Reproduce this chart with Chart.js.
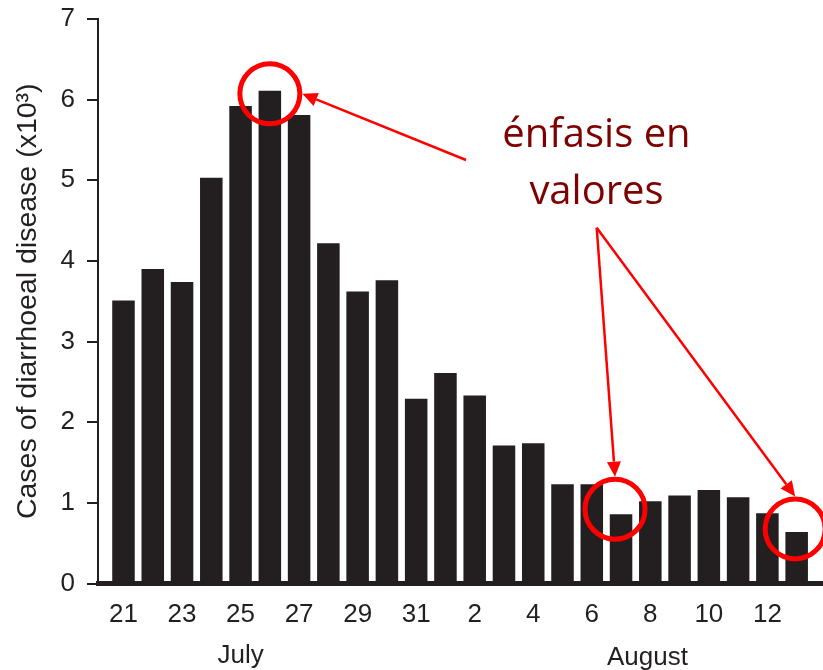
<!DOCTYPE html>
<html><head><meta charset="utf-8">
<script src="https://cdn.jsdelivr.net/npm/chart.js@4.4.0/dist/chart.umd.min.js"></script>
<style>html,body{margin:0;padding:0;background:#fff}#wrap{width:823px;height:670px}</style>
</head><body><div id="wrap"><canvas id="c" width="823" height="670"></canvas></div>
<script>
// ---- data ----
const days = ["21","22","23","24","25","26","27","28","29","30","31",
              "1","2","3","4","5","6","7","8","9","10","11","12","13"];
const cases = [3.51,3.90,3.74,5.03,5.92,6.11,5.81,4.22,3.62,3.76,2.29,
               2.61,2.33,1.71,1.74,1.23,1.23,0.86,1.02,1.09,1.16,1.07,0.87,0.64];
const tickDays = ["21","23","25","27","29","31","2","4","6","8","10","12"];
const yTicks = [0,1,2,3,4,5,6,7];
const months = ["July","August"];
const highlightedDays = ["26","7","13"];
const yTitle = "Cases of diarrhoeal disease (x10\u00B3)";
const note = ["\u00E9nfasis en","valores"];

const INK = '#231f20';
const FONT = '"Liberation Sans", Arial, Helvetica, sans-serif';

const annot = {
  id: 'annot',
  afterDatasetsDraw(chart, args, o) {
    const {ctx, scales:{x, y}} = chart;
    ctx.save();
    // month labels
    ctx.fillStyle = INK;
    ctx.font = '26px ' + FONT;
    ctx.textAlign = 'center';
    ctx.textBaseline = 'alphabetic';
    months.forEach((m, i) => ctx.fillText(m, x.getPixelForValue(o.monthPos[i]), o.monthY[i]));

    // circles around highlighted bars
    const centers = highlightedDays.map((d, i) => {
      const idx = days.indexOf(d, i === 0 ? 0 : 11);
      return {
        cx: x.getPixelForValue(idx) + o.circleOff[i][0],
        cy: y.getPixelForValue(cases[idx]) + o.circleOff[i][1]
      };
    });
    ctx.strokeStyle = '#ff0000';
    ctx.lineWidth = 5;
    centers.forEach(c => { ctx.beginPath(); ctx.arc(c.cx, c.cy, o.r, 0, Math.PI*2); ctx.stroke(); });

    // arrows
    const arrow = (x0, y0, x1, y1) => {
      const a = Math.atan2(y1 - y0, x1 - x0);
      const L = 15, W = 7;
      const bx = x1 - L*Math.cos(a), by = y1 - L*Math.sin(a);
      ctx.strokeStyle = '#ff0000'; ctx.fillStyle = '#ff0000'; ctx.lineWidth = 2.5;
      ctx.beginPath(); ctx.moveTo(x0, y0); ctx.lineTo(bx, by); ctx.stroke();
      ctx.beginPath();
      ctx.moveTo(x1, y1);
      ctx.lineTo(bx + W*Math.sin(a), by - W*Math.cos(a));
      ctx.lineTo(bx - W*Math.sin(a), by + W*Math.cos(a));
      ctx.closePath(); ctx.fill();
    };
    o.tails.forEach((t, i) => {
      const c = centers[i], ang = o.tipAngle[i];
      arrow(t[0], t[1], c.cx + (o.r + 2.5)*Math.cos(ang), c.cy + (o.r + 2.5)*Math.sin(ang));
    });

    // note text
    ctx.fillStyle = '#7f0000';
    ctx.font = '40px "Open Sans", "Noto Sans", sans-serif';
    ctx.textAlign = 'center';
    ctx.fillText(note[0], o.noteX, o.noteY[0]);
    ctx.fillText(note[1], o.noteX, o.noteY[1]);
    ctx.restore();
  }
};

new Chart(document.getElementById('c'), {
  type: 'bar',
  data: {
    datasets: [{
      data: cases.map((v, i) => ({x: i, y: v})),
      backgroundColor: INK,
      borderWidth: 0,
      categoryPercentage: 1,
      barPercentage: 0.77
    }]
  },
  options: {
    responsive: false,
    animation: false,
    devicePixelRatio: 1,
    layout: {padding: {top: 19, right: 0, bottom: 0, left: 0}},
    plugins: {
      legend: {display: false},
      tooltip: {enabled: false},
      annot: {
        monthPos: [4.0, 17.9],
        monthY: [663, 665],
        circleOff: [[0, 3], [-6, -5], [-1.5, -3]],
        r: 30,
        tails: [[466, 160], [596.7, 227.7], [596.7, 227.7]],
        tipAngle: [0, -Math.PI/2, -Math.PI/2],
        noteX: 596.5,
        noteY: [147, 204]
      }
    },
    scales: {
      x: {
        type: 'linear',
        min: -0.871, max: 23.9,
        offset: false,
        afterBuildTicks: s => { s.ticks = tickDays.map(d => ({value: days.indexOf(d)})); },
        ticks: {
          callback: v => days[v],
          color: INK, font: {size: 26, family: FONT},
          padding: 16, maxRotation: 0, autoSkip: false
        },
        grid: {display: true, drawOnChartArea: false, drawTicks: false, offset: false},
        border: {display: true, color: INK, width: 5},
        afterFit: s => { s.height = 86.5; s.paddingLeft = 0; s.paddingRight = 0; }
      },
      y: {
        min: 0, max: 7,
        afterBuildTicks: s => { s.ticks = yTicks.map(v => ({value: v})); },
        ticks: {color: INK, font: {size: 26, family: FONT}, padding: 12},
        grid: {display: true, drawOnChartArea: false, drawTicks: true, tickLength: 11, color: INK, lineWidth: 2},
        border: {display: true, color: INK, width: 2},
        title: {display: true, text: yTitle, color: INK, font: {size: 28.5, family: FONT}, padding: {top: 11, bottom: 0}},
        afterFit: s => { s.width = 98; s.paddingTop = 0; s.paddingBottom = 0; }
      }
    }
  },
  plugins: [annot]
});
</script>
</body></html>
